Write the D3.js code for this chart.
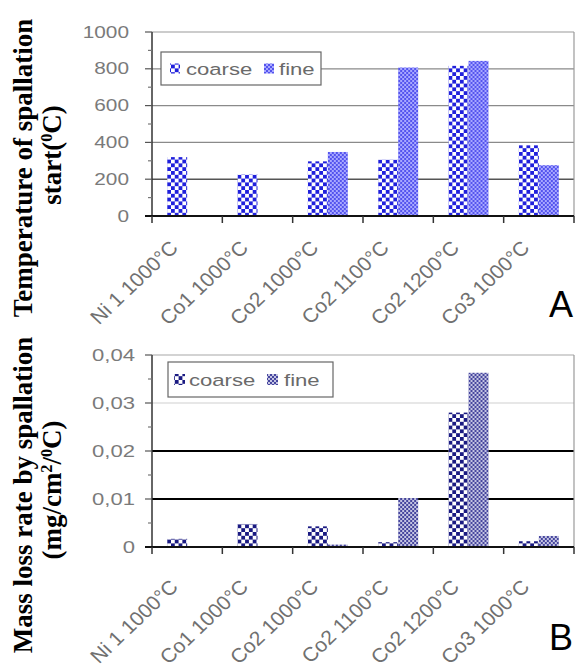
<!DOCTYPE html>
<html>
<head>
<meta charset="utf-8">
<script src="https://cdn.jsdelivr.net/npm/d3@7"></script>
<style>
  html, body { margin: 0; padding: 0; background: #fff; }
  svg { display: block; }
</style>
</head>
<body>
<div id="chart"></div>
<script>
// categories shared by both panels
const categories = ['Ni 1 1000°C', 'Co1 1000°C', 'Co2 1000°C', 'Co2 1100°C', 'Co2 1200°C', 'Co3 1000°C'];
const seriesNames = ['coarse', 'fine'];

// panel A: temperature of spallation start (°C)
const tempCoarse = [320, 225, 297, 306, 816, 384];
const tempFine = [0, 0, 348, 807, 843, 276];
const tempTicks = [0, 200, 400, 600, 800, 1000];

// panel B: mass loss rate by spallation (mg/cm²/°C)
const lossCoarse = [0.0017, 0.0048, 0.0043, 0.0010, 0.0280, 0.0012];
const lossFine = [0, 0, 0.0005, 0.0102, 0.0363, 0.0023];
const lossTicks = [0, 0.01, 0.02, 0.03, 0.04];

const width = 579, height = 667;
const svg = d3.select('#chart').append('svg').attr('width', width).attr('height', height);
const defs = svg.append('defs');

// checkerboard fills like the old excel patterns
function checker(id, size, c1, c2) {
  const p = defs.append('pattern')
    .attr('id', id)
    .attr('patternUnits', 'userSpaceOnUse')
    .attr('width', size * 2)
    .attr('height', size * 2);
  p.append('rect').attr('width', size * 2).attr('height', size * 2).attr('fill', c2);
  p.append('rect').attr('width', size).attr('height', size).attr('fill', c1);
  p.append('rect').attr('x', size).attr('y', size).attr('width', size).attr('height', size).attr('fill', c1);
}
checker('aCoarse', 3.8, '#2020dc', '#ffffff');
checker('aFine', 2, '#5454ee', '#a8a8ff');
checker('bCoarse', 3.8, '#1a1a82', '#ffffff');
checker('bFine', 2, '#46469e', '#c4c4e2');

function drawPanel(opt) {
  const g = svg.append('g');
  const { left, right, top, bottom } = opt;

  const x0 = d3.scaleBand().domain(categories).range([left, right]);
  const x1 = d3.scaleBand().domain(seriesNames).range([0, 40]);
  const y = d3.scaleLinear().domain(opt.domain).range([bottom, top]);

  // grid lines
  g.append('g')
    .selectAll('line')
    .data(opt.ticks.slice(1))
    .join('line')
    .attr('x1', left).attr('x2', right)
    .attr('y1', (d) => y(d)).attr('y2', (d) => y(d))
    .attr('stroke', (d, i) => opt.gridColor[i])
    .attr('stroke-width', (d, i) => opt.gridWidth[i]);

  // right border of plot area
  g.append('line')
    .attr('x1', right).attr('x2', right)
    .attr('y1', top).attr('y2', bottom)
    .attr('stroke', '#9a9a9a').attr('stroke-width', 1.2);

  // bars
  const rows = categories.map((c, i) => ({ cat: c, values: [opt.coarse[i], opt.fine[i]] }));
  g.append('g')
    .selectAll('g')
    .data(rows)
    .join('g')
    .attr('transform', (d) => `translate(${x0(d.cat) + (x0.bandwidth() - 40) / 2},0)`)
    .selectAll('rect')
    .data((d) => d.values.map((v, j) => ({ key: seriesNames[j], v })))
    .join('rect')
    .attr('x', (d) => x1(d.key))
    .attr('width', x1.bandwidth())
    .attr('y', (d) => y(d.v))
    .attr('height', (d) => y(0) - y(d.v))
    .attr('fill', (d) => `url(#${opt.fills[d.key]})`);

  // y axis with minor ticks
  const yAxis = g.append('g').attr('transform', `translate(${left},0)`);
  yAxis.append('line')
    .attr('y1', top).attr('y2', bottom)
    .attr('stroke', '#333').attr('stroke-width', 1.5);
  yAxis.selectAll('.major')
    .data(opt.ticks)
    .join('line')
    .attr('class', 'major')
    .attr('x1', -7).attr('x2', 0)
    .attr('y1', (d) => y(d)).attr('y2', (d) => y(d))
    .attr('stroke', '#555').attr('stroke-width', 1.2);
  yAxis.selectAll('.minor')
    .data(opt.minor)
    .join('line')
    .attr('class', 'minor')
    .attr('x1', -4).attr('x2', 0)
    .attr('y1', (d) => y(d)).attr('y2', (d) => y(d))
    .attr('stroke', '#777').attr('stroke-width', 1.2);
  yAxis.selectAll('text')
    .data(opt.ticks)
    .join('text')
    .attr('transform', (d) => `translate(${opt.labelX - left},${y(d)}) scale(${opt.stretch},1)`)
    .attr('text-anchor', 'end')
    .attr('dominant-baseline', 'central')
    .attr('font-family', 'Liberation Sans, Arial, sans-serif')
    .attr('font-size', opt.tickSize)
    .attr('fill', '#7a7a7a')
    .text(opt.format);

  // x axis
  const edges = categories.map((c) => x0(c)).concat([right]);
  g.append('line')
    .attr('x1', left - 7).attr('x2', right)
    .attr('y1', bottom).attr('y2', bottom)
    .attr('stroke', '#111').attr('stroke-width', 2);
  g.append('g')
    .selectAll('line')
    .data(edges)
    .join('line')
    .attr('x1', (d) => d).attr('x2', (d) => d)
    .attr('y1', bottom).attr('y2', bottom + 7)
    .attr('stroke', '#333').attr('stroke-width', 1.5);
  g.append('g')
    .selectAll('text')
    .data(categories)
    .join('text')
    .attr('transform', (d) => `translate(${x0(d) + x0.bandwidth() / 2 - 8},${bottom + opt.xLabelDy}) scale(1.05,1) rotate(-45)`)
    .attr('text-anchor', 'end')
    .attr('font-family', 'Liberation Sans, Arial, sans-serif')
    .attr('font-size', 20)
    .attr('fill', '#707070')
    .text((d) => d);

  // legend
  const lg = g.append('g');
  const L = opt.legend;
  lg.append('rect')
    .attr('x', L.x).attr('y', L.y).attr('width', L.w).attr('height', L.h)
    .attr('fill', '#fff').attr('stroke', '#666').attr('stroke-width', 1.2);
  seriesNames.forEach((s, i) => {
    lg.append('rect')
      .attr('x', L.swatchX[i]).attr('y', L.y + L.h / 2 - L.sw / 2)
      .attr('width', L.sw).attr('height', L.sw)
      .attr('fill', `url(#${opt.fills[s]})`);
    lg.append('text')
      .attr('transform', `translate(${L.textX[i]},${L.y + L.h / 2}) scale(${opt.stretch},1)`)
      .attr('dominant-baseline', 'central')
      .attr('font-family', 'Liberation Sans, Arial, sans-serif')
      .attr('font-size', L.fs)
      .attr('fill', '#6a6a6a')
      .text(s);
  });

  // panel letter
  g.append('text')
    .attr('x', 549).attr('y', opt.letterY)
    .attr('font-family', 'Liberation Sans, Arial, sans-serif')
    .attr('font-size', 36)
    .attr('fill', '#000')
    .text(opt.letter);

  // y title (two lines, bold serif)
  g.append('text')
    .attr('transform', `translate(32,${opt.titleY}) rotate(-90)`)
    .attr('text-anchor', 'middle')
    .attr('font-family', 'Liberation Serif, Times New Roman, serif')
    .attr('font-weight', 'bold')
    .attr('font-size', opt.titleSize)
    .text(opt.title1);
  const t2 = g.append('text')
    .attr('transform', `translate(61,${opt.titleY2}) rotate(-90)`)
    .attr('text-anchor', 'middle')
    .attr('font-family', 'Liberation Serif, Times New Roman, serif')
    .attr('font-weight', 'bold')
    .attr('font-size', opt.titleSize);
  opt.title2.forEach((part) => {
    const ts = t2.append('tspan').text(part.t);
    if (part.sup) ts.attr('font-size', '0.6em').attr('dy', -9);
    if (part.after) ts.attr('dy', 9);
  });
}

const commaFormat = (d) => (d === 0 ? '0' : d3.format('.2f')(d).replace('.', ','));

drawPanel({
  left: 152, right: 574, top: 32, bottom: 216,
  domain: [0, 1000], ticks: tempTicks,
  minor: [100, 300, 500, 700, 900],
  gridColor: ['#555', '#8a8a8a', '#8a8a8a', '#8a8a8a', '#9a9a9a'],
  gridWidth: [1.6, 1.2, 1.2, 1.2, 1.2],
  coarse: tempCoarse, fine: tempFine,
  fills: { coarse: 'aCoarse', fine: 'aFine' },
  format: (d) => d, labelX: 129, stretch: 1.3, tickSize: 16,
  legend: { x: 161, y: 52, w: 160, h: 33, sw: 10, swatchX: [170, 264], textX: [186, 279], fs: 17 },
  xLabelDy: 33,
  letter: 'A', letterY: 317,
  title1: 'Temperature of spallation',
  title2: [{ t: 'start(' }, { t: '0', sup: true }, { t: 'C)', after: true }],
  titleY: 168, titleY2: 155, titleSize: 27
});

drawPanel({
  left: 152, right: 574, top: 355, bottom: 547,
  domain: [0, 0.04], ticks: lossTicks,
  minor: [0.005, 0.015, 0.025, 0.035],
  gridColor: ['#000', '#000', '#cfcfcf', '#a8a8a8'],
  gridWidth: [2, 2, 1, 1.2],
  coarse: lossCoarse, fine: lossFine,
  fills: { coarse: 'bCoarse', fine: 'bFine' },
  format: commaFormat, labelX: 135, stretch: 1.3, tickSize: 17,
  legend: { x: 168, y: 362, w: 165, h: 35, sw: 11, swatchX: [174, 267], textX: [189, 284], fs: 17 },
  xLabelDy: 41,
  letter: 'B', letterY: 650,
  title1: 'Mass loss rate by spallation',
  title2: [{ t: '(mg/cm' }, { t: '2', sup: true }, { t: '/', after: true }, { t: '0', sup: true }, { t: 'C)', after: true }],
  titleY: 495, titleY2: 490, titleSize: 27
});
</script>
</body>
</html>
